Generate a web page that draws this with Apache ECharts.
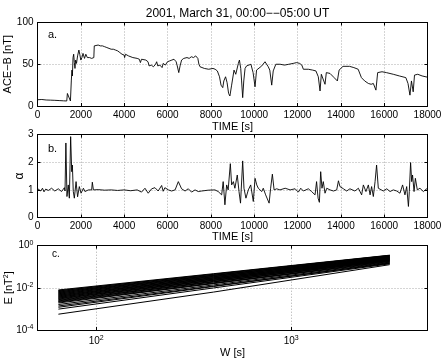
<!DOCTYPE html>
<html><head><meta charset="utf-8">
<script src="https://cdn.jsdelivr.net/npm/echarts@6/dist/echarts.min.js"></script>
<style>html,body{margin:0;padding:0;background:#fff}#c{width:443px;height:359px}</style>
</head><body><div id="c"></div>
<script>
const titleText = '2001, March 31, 00:00\u2212\u221205:00 UT';
const panelLabels = ['a.', 'b.', 'c.'];
// panel a: ACE-B [nT] vs time [s]
const aceB = [[0,7.5],[200,7.8],[400,7.2],[600,7.0],[800,6.8],[1000,6.5],[1200,6.2],[1350,6.0],[1380,15],[1420,17],[1470,14],[1520,6],[1560,30],[1590,43],[1610,36],[1640,58],[1670,62],[1700,52],[1730,45],[1760,55],[1800,51],[1850,60],[1910,67],[1950,62],[2000,55],[2050,58],[2100,63],[2170,57],[2230,62],[2300,58],[2400,58],[2500,57],[2600,58],[2620,72],[2700,72],[2800,73],[2900,72],[3000,72],[3100,71],[3200,70],[3300,69],[3400,68],[3500,68],[3600,67],[3700,66],[3800,64],[3900,62],[4000,61],[4020,58],[4060,62],[4200,60],[4400,58],[4600,57],[4700,56],[4750,52],[4800,56],[5000,55],[5100,53],[5150,48],[5250,49],[5350,47],[5450,50],[5500,53],[5550,48],[5650,49],[5750,46],[5800,51],[5900,49],[6000,53],[6100,54],[6200,55],[6300,56],[6400,53],[6450,48],[6520,40],[6580,48],[6650,55],[6750,57],[6900,58],[7000,57],[7100,59],[7200,58],[7300,60],[7400,57],[7450,50],[7500,47],[7700,45],[7900,44],[8100,45],[8200,44],[8300,42],[8400,35],[8470,25],[8550,22],[8600,30],[8680,35],[8750,28],[8820,15],[8880,12],[8960,25],[9070,43],[9150,38],[9190,36],[9270,51],[9320,55],[9380,45],[9420,30],[9470,10],[9520,30],[9580,45],[9650,48],[9730,50],[9850,50],[9950,40],[10040,23],[10110,43],[10200,45],[10350,48],[10500,53],[10560,54],[10650,47],[10720,43],[10810,25],[10880,42],[11000,50],[11200,50],[11400,49],[11600,50],[11800,51],[11960,52],[12100,51],[12200,49],[12270,44],[12500,44],[12700,43],[12850,42],[12960,35],[13040,18],[13100,38],[13150,40],[13270,26],[13330,40],[13500,39],[13690,34],[13840,30],[13920,43],[14100,47.5],[14400,47.5],[14600,46],[14800,44],[14950,34],[15100,30],[15270,27],[15400,26],[15500,27],[15620,19],[15700,40],[15900,41],[16100,40],[16420,38],[16700,36],[17000,34],[17100,27],[17190,13],[17260,30],[17340,17],[17400,37],[17550,38],[17750,36],[18000,34.5]];
// panel b: alpha vs time [s]
const alpha = [[0,1.05],[80,1.12],[150,0.96],[230,1.06],[300,0.93],[380,1.03],[500,0.98],[650,1.06],[800,0.96],[960,1.04],[1110,0.94],[1240,1.08],[1270,0.96],[1310,2.7],[1360,0.76],[1420,1.18],[1470,0.70],[1530,2.93],[1580,1.66],[1610,1.9],[1650,0.95],[1700,0.7],[1780,1.3],[1850,0.75],[1930,1.12],[2010,0.88],[2120,1.06],[2190,0.94],[2350,1.0],[2500,1.0],[2530,1.28],[2580,1.0],[2800,1.01],[3100,0.99],[3400,1.0],[3700,0.98],[4000,1.0],[4300,0.97],[4600,1.0],[4800,0.92],[4960,1.06],[5110,0.88],[5270,1.04],[5420,1.08],[5570,0.96],[5730,1.16],[5800,0.95],[5880,1.08],[6040,1.0],[6190,0.96],[6350,1.0],[6500,1.3],[6650,1.04],[6810,0.96],[6960,1.04],[7110,0.92],[7270,1.0],[7420,0.94],[7580,0.96],[7880,0.99],[8190,1.0],[8340,0.94],[8500,0.82],[8570,1.3],[8650,0.46],[8730,1.18],[8800,1.0],[8900,1.95],[8960,1.18],[9040,1.3],[9110,1.06],[9220,1.54],[9300,0.94],[9370,0.52],[9470,2.05],[9530,1.06],[9620,0.7],[9730,1.0],[9840,1.18],[9960,0.58],[10040,1.42],[10120,1.18],[10190,1.06],[10270,1.12],[10350,0.94],[10420,1.06],[10530,0.82],[10610,0.88],[10690,0.52],[10760,1.06],[10840,1.57],[10920,1.0],[11040,1.04],[11190,1.0],[11430,1.06],[11660,1.0],[11890,1.04],[12040,0.92],[12150,1.06],[12270,0.96],[12500,1.04],[12650,0.94],[12730,1.0],[12810,0.82],[12880,1.3],[12950,0.7],[13010,0.55],[13070,1.66],[13130,1.06],[13190,1.3],[13270,0.88],[13350,1.06],[13500,1.0],[13660,0.96],[13810,1.0],[13890,1.33],[13960,1.12],[14120,1.04],[14270,0.96],[14420,1.04],[14650,0.96],[14810,1.06],[14960,0.82],[15040,1.18],[15160,0.94],[15270,1.18],[15350,0.82],[15420,1.12],[15500,0.76],[15580,1.3],[15650,1.9],[15730,1.06],[15810,1.0],[15960,0.96],[16120,1.04],[16270,0.94],[16420,1.0],[16580,0.96],[16730,0.88],[16850,1.18],[16960,0.82],[17040,1.12],[17120,0.4],[17160,0.94],[17220,1.99],[17270,1.3],[17310,1.54],[17380,0.94],[17440,1.42],[17530,1.0],[17650,1.06],[17810,0.94],[17960,1.04],[18000,1.0]];
// panel c: E [nT^2] vs window W [s]; one line per record
const wPoints = [64, 400, 3200];
const eStart = [0.00794,0.00741,0.00708,0.00661,0.00631,0.00589,0.00562,0.00525,0.00501,0.00468,0.00447,0.00417,0.00398,0.00372,0.00355,0.00331,0.00316,0.00295,0.00275,0.00257,0.00240,0.00224,0.00209,0.00191,0.00162,0.00138,0.00120,0.000977,0.000562];
const eMid = [0.0470,0.0444,0.0438,0.0404,0.0385,0.0384,0.0355,0.0335,0.0337,0.0308,0.0294,0.0293,0.0271,0.0256,0.0258,0.0236,0.0225,0.0224,0.0204,0.0193,0.0192,0.0173,0.0162,0.0161,0.0138,0.0122,0.0116,0.00991,0.00631];
const eEnd = [0.355,0.339,0.347,0.316,0.302,0.324,0.288,0.275,0.295,0.263,0.251,0.269,0.240,0.229,0.245,0.219,0.209,0.224,0.200,0.191,0.204,0.178,0.166,0.182,0.158,0.145,0.151,0.138,0.126];

const FONT = 'Liberation Sans, Arial, Helvetica, sans-serif';
const grids = [
  {left: 37.5, top: 22.5, width: 390, height: 83.5, outerBoundsMode: 'none', containLabel: false},
  {left: 37.5, top: 134.7, width: 390, height: 82.8, outerBoundsMode: 'none', containLabel: false},
  {left: 37.5, top: 245.7, width: 390, height: 84.3, outerBoundsMode: 'none', containLabel: false}
];
const gridLine = {show: true, lineStyle: {color: '#aaa', type: [1, 2], width: 1}};
const axLine = {show: true, onZero: false, lineStyle: {color: '#000', width: 1}};
const tick = {show: true, inside: true, length: 3, lineStyle: {color: '#000'}};
const lbl = {color: '#000', fontSize: 10, fontFamily: FONT};
const plainFmt = function (v) { return String(v); };
const sup = {fontSize: 7, fontFamily: FONT, color: '#000', verticalAlign: 'bottom', padding: [0, 0, 6, 0]};
const powFmt = function (v) {
  const e = Math.log10(v);
  if (Math.abs(e - Math.round(e)) > 1e-6) return '';
  return '{b|10}{s|' + Math.round(e) + '}';
};
const nameStyle = {color: '#000', fontSize: 11, fontFamily: FONT};
const common = {nameMoveOverlap: false};

const xAxis = [
  Object.assign({gridIndex: 0, type: 'value', min: 0, max: 18000, interval: 2000, axisLine: axLine, axisTick: tick, splitLine: gridLine,
   axisLabel: Object.assign({margin: 4, formatter: plainFmt}, lbl), name: 'TIME [s]', nameLocation: 'middle', nameGap: 15, nameTextStyle: nameStyle}, common),
  Object.assign({gridIndex: 1, type: 'value', min: 0, max: 18000, interval: 2000, axisLine: axLine, axisTick: tick, splitLine: gridLine,
   axisLabel: Object.assign({margin: 4, formatter: plainFmt}, lbl), name: 'TIME [s]', nameLocation: 'middle', nameGap: 14, nameTextStyle: nameStyle}, common),
  Object.assign({gridIndex: 2, type: 'log', logBase: 10, min: 50, max: 5000, splitNumber: 2, axisLine: axLine, axisTick: tick, splitLine: gridLine,
   axisLabel: Object.assign({margin: 5, formatter: powFmt, rich: {b: {fontSize: 10, fontFamily: FONT, color: '#000'}, s: sup}}, lbl),
   name: 'W [s]', nameLocation: 'middle', nameGap: 17, nameTextStyle: nameStyle}, common),
  {gridIndex: 0, type: 'value', position: 'top', min: 0, max: 18000, interval: 2000, axisLine: axLine, axisTick: tick, splitLine: {show: false}, axisLabel: {show: false}},
  {gridIndex: 1, type: 'value', position: 'top', min: 0, max: 18000, interval: 2000, axisLine: axLine, axisTick: tick, splitLine: {show: false}, axisLabel: {show: false}},
  {gridIndex: 2, type: 'log', position: 'top', min: 50, max: 5000, splitNumber: 2, axisLine: axLine, axisTick: tick, splitLine: {show: false}, axisLabel: {show: false}}
];
const yAxis = [
  Object.assign({gridIndex: 0, type: 'value', min: 0, max: 100, interval: 50, axisLine: axLine, axisTick: tick, splitLine: gridLine,
   axisLabel: Object.assign({margin: 4}, lbl), name: 'ACE\u2212B [nT]', nameLocation: 'middle', nameGap: 24, nameTextStyle: nameStyle}, common),
  Object.assign({gridIndex: 1, type: 'value', min: 0, max: 3, interval: 1, axisLine: axLine, axisTick: tick, splitLine: gridLine,
   axisLabel: Object.assign({margin: 4}, lbl), name: '\u03b1', nameLocation: 'middle', nameGap: 12, nameTextStyle: Object.assign({}, nameStyle, {fontSize: 12})}, common),
  Object.assign({gridIndex: 2, type: 'log', logBase: 10, min: 0.0001, max: 1, interval: 2, axisLine: axLine, axisTick: tick, splitLine: gridLine,
   axisLabel: Object.assign({margin: 4, formatter: powFmt, rich: {b: {fontSize: 10, fontFamily: FONT, color: '#000'}, s: sup}}, lbl),
   name: 'E [nT{s|2}]', nameLocation: 'middle', nameGap: 22, nameTextStyle: Object.assign({}, nameStyle, {rich: {s: sup}})}, common),
  {gridIndex: 0, type: 'value', position: 'right', min: 0, max: 100, interval: 50, axisLine: axLine, axisTick: tick, splitLine: {show: false}, axisLabel: {show: false}},
  {gridIndex: 1, type: 'value', position: 'right', min: 0, max: 3, interval: 1, axisLine: axLine, axisTick: tick, splitLine: {show: false}, axisLabel: {show: false}},
  {gridIndex: 2, type: 'log', position: 'right', min: 0.0001, max: 1, interval: 2, axisLine: axLine, axisTick: tick, splitLine: {show: false}, axisLabel: {show: false}}
];
const lineStyle = {color: '#000', width: 0.9};
const series = [
  {type: 'line', xAxisIndex: 0, yAxisIndex: 0, data: aceB, showSymbol: false, lineStyle: lineStyle, silent: true},
  {type: 'line', xAxisIndex: 1, yAxisIndex: 1, data: alpha, showSymbol: false, lineStyle: lineStyle, silent: true}
];
for (let i = 0; i < eStart.length; i++) {
  series.push({type: 'line', xAxisIndex: 2, yAxisIndex: 2, showSymbol: false, silent: true,
    lineStyle: {color: '#000', width: 1},
    data: [[wPoints[0], eStart[i]], [wPoints[1], eMid[i]], [wPoints[2], eEnd[i]]]});
}
const chart = echarts.init(document.getElementById('c'), null, {renderer: 'canvas'});
chart.setOption({
  animation: false,
  backgroundColor: '#fff',
  title: {text: titleText, left: 232.5, textAlign: 'center', top: 3, textStyle: {fontSize: 12, fontWeight: 'normal', color: '#000', fontFamily: FONT}},
  grid: grids,
  xAxis: xAxis,
  yAxis: yAxis,
  series: series,
  graphic: [
    {type: 'text', left: 48, top: 29, style: {text: panelLabels[0], font: '11px ' + FONT, fill: '#000'}},
    {type: 'text', left: 48, top: 143, style: {text: panelLabels[1], font: '11px ' + FONT, fill: '#000'}},
    {type: 'text', left: 52, top: 249, style: {text: panelLabels[2], font: '10px ' + FONT, fill: '#000'}}
  ]
});
</script></body></html>
